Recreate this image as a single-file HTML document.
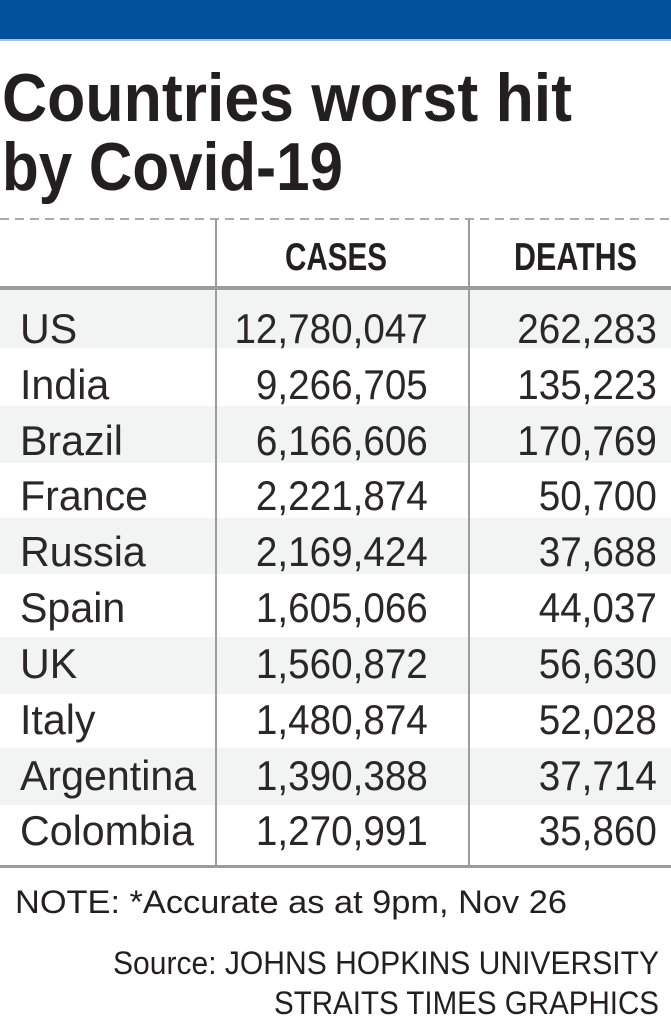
<!DOCTYPE html>
<html><head><meta charset="utf-8"><style>
html,body{margin:0;padding:0;background:#fff;}
svg{display:block;}
</style></head><body>
<svg width="671" height="1024" viewBox="0 0 671 1024" xmlns="http://www.w3.org/2000/svg">
<rect x="0" y="0" width="671" height="39" fill="#00529c"/>
<rect x="0" y="39" width="671" height="2" fill="#9fc1e6"/>
<g font-family="'Liberation Sans', sans-serif" font-weight="bold" fill="#231f20">
<text x="2" y="121" font-size="68" textLength="570" lengthAdjust="spacingAndGlyphs">Countries worst hit</text>
<text x="2" y="190" font-size="68" textLength="341" lengthAdjust="spacingAndGlyphs">by Covid-19</text>
<text x="285" y="270" font-size="39" textLength="102" lengthAdjust="spacingAndGlyphs">CASES</text>
<text x="514" y="270" font-size="39" textLength="123" lengthAdjust="spacingAndGlyphs">DEATHS</text>
</g>
<line x1="0" y1="219" x2="671" y2="219" stroke="#aaa" stroke-width="2" stroke-dasharray="9,6"/>
<g fill="#f2f3f3">
<rect x="0" y="290" width="671" height="58"/>
<rect x="0" y="406" width="671" height="57"/>
<rect x="0" y="518" width="671" height="56"/>
<rect x="0" y="637" width="671" height="57"/>
<rect x="0" y="748" width="671" height="57"/>
</g>
<rect x="0" y="286" width="671" height="4" fill="#9c9c9c"/>
<rect x="0" y="865" width="671" height="3" fill="#9c9c9c"/>
<line x1="216" y1="219" x2="216" y2="866" stroke="#9c9c9c" stroke-width="2"/>
<line x1="469" y1="219" x2="469" y2="866" stroke="#9c9c9c" stroke-width="2"/>
<g font-family="'Liberation Sans', sans-serif" font-size="42" fill="#2a2728" transform="scale(0.98,1)">
<text x="20.4" y="343">US</text>
<text x="20.4" y="399">India</text>
<text x="20.4" y="455">Brazil</text>
<text x="20.4" y="510">France</text>
<text x="20.4" y="566">Russia</text>
<text x="20.4" y="622">Spain</text>
<text x="20.4" y="678">UK</text>
<text x="20.4" y="734">Italy</text>
<text x="20.4" y="790">Argentina</text>
<text x="20.4" y="845">Colombia</text>
</g>
<g font-family="'Liberation Sans', sans-serif" font-size="42" fill="#2a2728" transform="scale(0.92,1)" text-anchor="end">
<text x="465" y="343">12,780,047</text>
<text x="465" y="399">9,266,705</text>
<text x="465" y="455">6,166,606</text>
<text x="465" y="510">2,221,874</text>
<text x="465" y="566">2,169,424</text>
<text x="465" y="622">1,605,066</text>
<text x="465" y="678">1,560,872</text>
<text x="465" y="734">1,480,874</text>
<text x="465" y="790">1,390,388</text>
<text x="465" y="845">1,270,991</text>
<text x="714" y="343">262,283</text>
<text x="714" y="399">135,223</text>
<text x="714" y="455">170,769</text>
<text x="714" y="510">50,700</text>
<text x="714" y="566">37,688</text>
<text x="714" y="622">44,037</text>
<text x="714" y="678">56,630</text>
<text x="714" y="734">52,028</text>
<text x="714" y="790">37,714</text>
<text x="714" y="845">35,860</text>
</g>
<g font-family="'Liberation Sans', sans-serif" font-size="32" fill="#231f20">
<text x="15" y="913" textLength="552" lengthAdjust="spacingAndGlyphs">NOTE: *Accurate as at 9pm, Nov 26</text>
<text x="113" y="974" textLength="546" lengthAdjust="spacingAndGlyphs">Source: JOHNS HOPKINS UNIVERSITY</text>
<text x="274" y="1014" textLength="385" lengthAdjust="spacingAndGlyphs">STRAITS TIMES GRAPHICS</text>
</g>
</svg>
</body></html>
